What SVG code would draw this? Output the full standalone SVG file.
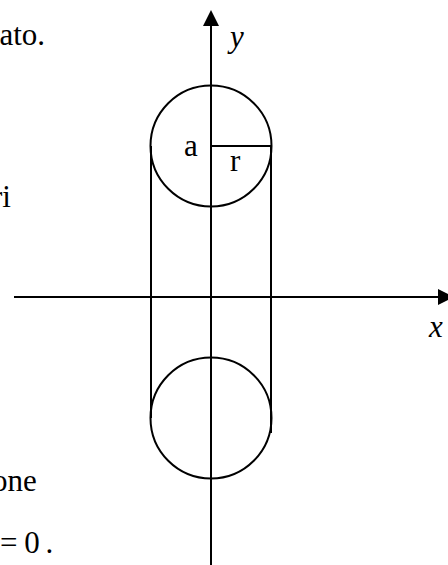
<svg xmlns="http://www.w3.org/2000/svg" width="448" height="565" viewBox="0 0 448 565">
<style>
.ln{stroke:#000;stroke-width:2;fill:none}
.t{font-family:"Liberation Serif","Times New Roman",serif;font-size:31px;fill:#000}
.i{font-style:italic}
</style>
<defs>
<marker id="ah" viewBox="0 0 16 16" refX="0" refY="8" markerWidth="16" markerHeight="16" markerUnits="userSpaceOnUse" orient="auto">
<path d="M0,0 L16,8 L0,16 Z" fill="#000"/>
</marker>
</defs>
<rect width="448" height="565" fill="#fff"/>
<g id="text-fragments">
<text class="t" x="-0.5" y="45">ato.</text>
<text class="t" x="-8" y="207">ri</text>
<text class="t" x="-8" y="490.5">one</text>
<text class="t" x="0" y="553">=</text>
<text class="t" x="24.3" y="553">0</text>
<text class="t" x="45.5" y="553">.</text>
</g>
<g id="connectors">
<line id="y-axis" class="ln" x1="211" y1="565" x2="211" y2="26" marker-end="url(#ah)"/>
<line id="x-axis" class="ln" x1="14" y1="297" x2="438" y2="297" marker-end="url(#ah)"/>
<line id="left-tangent" class="ln" x1="151" y1="146" x2="151" y2="418"/>
<line id="right-tangent" class="ln" x1="271" y1="146" x2="271" y2="433"/>
<line id="radius" class="ln" x1="211" y1="146" x2="271" y2="146"/>
</g>
<g id="top-circle">
<circle class="ln" cx="211" cy="146" r="60.5"/>
</g>
<g id="bottom-circle">
<circle class="ln" cx="211" cy="418" r="60.5"/>
</g>
<g id="labels">
<text class="t i" x="230" y="47">y</text>
<text class="t i" x="429" y="337">x</text>
<text class="t" x="184" y="155.7">a</text>
<text class="t" x="230" y="171">r</text>
</g>
</svg>
